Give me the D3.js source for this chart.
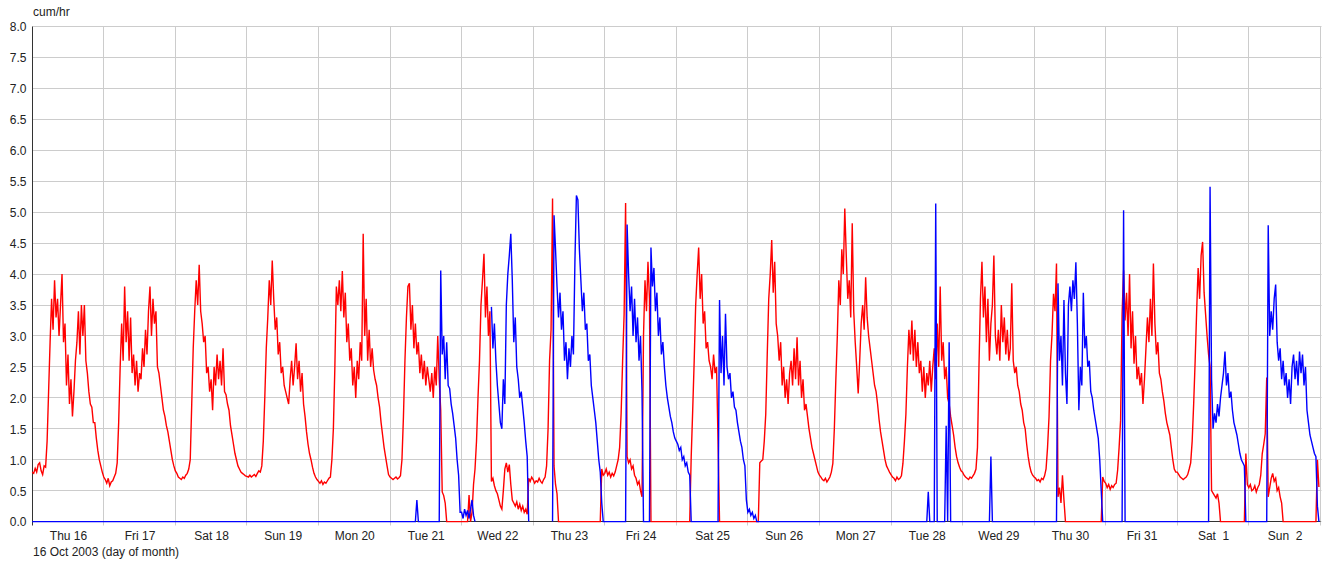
<!DOCTYPE html>
<html>
<head>
<meta charset="utf-8">
<script src="https://cdn.jsdelivr.net/npm/d3@7"></script>
<style>
  html, body { margin: 0; padding: 0; background: #fff; }
  svg { display: block; font-family: "Liberation Sans", Arial, sans-serif; }
</style>
</head>
<body>
<svg id="chart" width="1324" height="561"></svg>
<script>
// Half-hourly flow readings (cum/hr) starting 16 Oct 2003 00:00, one row per day.
const startDate = Date.UTC(2003, 9, 16);
const stepMinutes = 30;
const dayCount = 18;
const yTicks = [0, 0.5, 1, 1.5, 2, 2.5, 3, 3.5, 4, 4.5, 5, 5.5, 6, 6.5, 7, 7.5, 8];
const unitLabel = "cum/hr";
const startLabel = "16 Oct 2003 (day of month)";

// Meter A (red)
const redFlow = [
  [0.80,0.78,0.86,0.80,0.92,0.95,0.82,0.76,0.90,0.88,1.3,2.1,2.9,3.6,3.1,3.9,3.3,3.6,3.0,3.5,4.0,2.9,3.2,2.2,2.7,1.9,2.3,1.7,2.1,2.6,2.9,3.4,2.7,3.5,3.0,3.5,2.6,2.4,2.1,1.9,1.85,1.6,1.6,1.35,1.15,1.0,0.9,0.8],
  [0.72,0.68,0.62,0.70,0.58,0.64,0.66,0.72,0.78,0.95,1.6,2.5,3.2,2.6,3.8,2.9,3.4,2.6,3.3,2.4,2.7,2.2,2.6,2.1,2.4,2.3,2.8,2.5,3.1,2.7,3.4,3.8,3.0,3.6,3.2,3.4,2.5,2.4,2.2,2.0,1.8,1.7,1.55,1.45,1.3,1.15,1.0,0.9],
  [0.82,0.78,0.72,0.70,0.68,0.72,0.70,0.75,0.78,0.85,1.0,1.9,2.8,3.4,3.9,3.5,4.15,3.4,3.2,2.9,3.0,2.4,2.5,2.1,2.3,1.8,2.5,2.2,2.7,2.3,2.6,2.2,2.8,2.1,2.05,1.9,1.8,1.55,1.4,1.25,1.1,1.0,0.9,0.85,0.8,0.78,0.76,0.74],
  [0.73,0.72,0.75,0.72,0.74,0.76,0.73,0.78,0.82,0.80,0.9,1.3,2.0,2.8,3.3,3.9,3.5,4.22,3.6,3.1,3.3,2.7,2.9,2.4,2.5,2.2,2.1,2.0,1.9,2.3,2.6,2.2,2.5,2.88,2.3,2.6,2.1,2.4,1.9,1.7,1.45,1.25,1.1,1.0,0.88,0.78,0.72,0.68],
  [0.65,0.62,0.66,0.60,0.64,0.62,0.66,0.70,0.72,1.0,1.5,2.5,3.8,3.5,3.9,3.4,4.05,3.3,3.7,2.9,3.2,2.6,2.8,2.2,2.5,2.0,2.6,2.3,2.9,2.6,4.65,3.0,3.6,2.6,3.1,2.5,2.8,2.45,2.3,2.2,2.0,1.85,1.6,1.4,1.2,1.05,0.9,0.76],
  [0.72,0.70,0.68,0.70,0.72,0.69,0.71,0.74,1.0,1.7,2.6,3.3,3.8,3.85,3.1,3.5,2.8,3.2,2.7,2.9,2.4,2.7,2.3,2.6,2.2,2.5,2.3,2.1,2.4,2.0,2.5,2.2,3.0,2.3,1.8,0.48,0.42,0.3,0,0,0,0,0,0,0,0,0,0],
  [0,0,0,0,0,0.43,0,0.15,0.6,0.85,1.3,2.0,2.6,3.5,3.9,4.33,3.3,3.8,3.0,3.4,0.65,0.7,0.58,0.5,0.45,0.35,0.25,0.2,0.5,0.85,0.95,0.8,0.92,0.6,0.35,0.3,0.25,0.32,0.2,0.28,0.18,0.25,0.15,0.2,0.12,0.7,0.65,0.72],
  [0.68,0.62,0.66,0.64,0.70,0.65,0.62,0.68,0.72,0.9,1.5,2.6,3.1,5.22,0.9,0.6,0.45,0,0,0,0,0,0,0,0,0,0,0,0,0,0,0,0,0,0,0,0,0,0,0,0,0,0,0,0,0,0.85,0.75],
  [0.78,0.85,0.75,0.80,0.72,0.78,0.74,0.80,0.90,1.0,1.2,1.75,2.6,3.35,5.15,1.05,0.95,1.0,0.85,0.9,0.75,0.7,0.6,0.65,0.5,0.4,3.0,3.9,3.4,4.2,3.6,0,0,0,0,0,0,0,0,0,0,0,0,0,0,0,0,0],
  [0,0,0,0,0,0,0,0,0,0,1.05,1.8,2.6,3.5,4.0,4.43,3.6,4.0,3.2,3.4,2.8,2.9,2.6,2.5,2.3,2.7,2.4,2.5,1.3,0,0,0,0,0,0,0,0,0,0,0,0,0,0,0,0,0,0,0],
  [0,0,0,0,0,0,0,0,0.95,0.98,1.0,1.3,1.74,2.7,3.6,4.0,4.55,3.7,4.2,3.2,3.0,2.6,2.9,2.2,2.5,2.0,2.3,1.9,2.4,2.6,2.2,2.8,2.3,2.98,2.2,2.6,2.0,2.3,1.8,1.9,1.7,1.5,1.35,1.2,1.1,1.0,0.9,0.8],
  [0.75,0.72,0.68,0.66,0.70,0.64,0.68,0.72,0.8,0.94,1.5,2.29,3.0,3.9,3.5,4.4,4.0,5.06,4.3,3.6,3.9,3.3,4.82,3.4,2.9,2.5,2.07,2.6,3.2,3.5,3.1,3.95,3.3,3.0,2.8,2.6,2.4,2.2,2.1,1.9,1.65,1.45,1.3,1.15,1.0,0.9,0.85,0.8],
  [0.76,0.72,0.70,0.66,0.72,0.68,0.70,0.74,0.94,1.3,1.74,2.5,3.1,2.7,3.25,2.6,3.1,2.5,2.9,2.4,2.6,2.1,2.5,2.0,2.4,2.2,2.6,2.1,2.5,2.8,2.3,3.2,2.5,3.8,2.6,2.9,2.3,2.5,2.0,1.9,1.7,1.55,1.4,1.2,1.05,0.95,0.88,0.82],
  [0.8,0.75,0.72,0.7,0.68,0.72,0.7,0.74,0.78,0.85,1.2,2.5,3.6,4.2,3.3,3.8,2.9,3.6,2.6,3.2,3.5,4.3,3.0,2.7,3.1,2.6,3.5,2.9,3.3,2.7,3.1,2.6,2.8,3.85,2.6,2.4,2.5,2.2,2.1,1.9,1.8,1.6,1.5,1.25,1.05,0.9,0.8,0.75],
  [0.72,0.70,0.66,0.68,0.64,0.70,0.68,0.74,0.85,1.2,1.7,2.6,3.03,3.68,3.4,4.17,0.4,0.55,0.3,0.75,0.35,0,0,0,0,0,0,0,0,0,0,0,0,0,0,0,0,0,0,0,0,0,0,0,0,0,0.72,0.65],
  [0.62,0.55,0.6,0.52,0.58,0.55,0.6,0.62,0.83,1.2,1.64,3.36,4.06,3.25,3.7,3.0,4.0,2.8,3.4,2.55,3.0,2.3,2.5,2.2,2.4,1.9,2.3,2.8,3.3,2.9,3.6,3.0,4.17,3.2,2.7,2.9,2.4,2.3,2.1,1.95,1.75,1.6,1.5,1.4,1.2,1.0,0.85,0.8],
  [0.8,0.76,0.72,0.7,0.68,0.7,0.72,0.76,0.85,0.95,1.3,1.9,2.6,3.4,4.1,3.6,4.3,4.52,3.7,3.35,3.0,2.7,2.5,0.5,0.46,0.42,0.38,0.45,0.3,0,0,0,0,0,0,0,0,0,0,0,0,0,0,0,0,0,1.1,0.6],
  [0.55,0.6,0.5,0.52,0.58,0.48,0.55,0.6,0.75,1.1,1.25,1.42,2.33,0.4,0.55,0.7,0.78,0.65,0.7,0.5,0.55,0.4,0.3,0,0,0,0,0,0,0,0,0,0,0,0,0,0,0,0,0,0,0,0,0,0,0,1.0,0.56]
];

// Meter B (blue); null = no reading
const blueFlow = [
  [0,0,0,0,0,0,0,0,0,0,0,0,0,0,0,0,0,0,0,0,0,0,0,0,0,0,0,0,0,0,0,0,0,0,0,0,0,0,0,0,0,0,0,0,0,0,0,0],
  [0,0,0,0,0,0,0,0,0,0,0,0,0,0,0,0,0,0,0,0,0,0,0,0,0,0,0,0,0,0,0,0,0,0,0,0,0,0,0,0,0,0,0,0,0,0,0,0],
  [0,0,0,0,0,0,0,0,0,0,0,0,0,0,0,0,0,0,0,0,0,0,0,0,0,0,0,0,0,0,0,0,0,0,0,0,0,0,0,0,0,0,0,0,0,0,0,0],
  [0,0,0,0,0,0,0,0,0,0,0,0,0,0,0,0,0,0,0,0,0,0,0,0,0,0,0,0,0,0,0,0,0,0,0,0,0,0,0,0,0,0,0,0,0,0,0,0],
  [0,0,0,0,0,0,0,0,0,0,0,0,0,0,0,0,0,0,0,0,0,0,0,0,0,0,0,0,0,0,0,0,0,0,0,0,0,0,0,0,0,0,0,0,0,0,0,0],
  [0,0,0,0,0,0,0,0,0,0,0,0,0,0,0,0,0,0,0.35,0,0,0,0,0,0,0,0,0,0,0,0,0,0,0,4.06,2.7,3.0,2.3,2.9,2.2,2.15,1.9,1.75,1.55,1.35,1.0,0.75,0.15],
  [0.15,0.05,0.2,0.1,0.18,0.05,0.2,0.35,0.1,0,null,null,null,null,null,null,null,null,null,null,3.47,2.8,3.2,2.6,2.2,1.9,1.6,1.5,2.3,1.9,3.5,4.0,4.3,4.65,3.9,2.9,3.3,2.5,2.3,2.0,2.1,1.85,1.6,1.3,1.05,0,null,null],
  [null,null,null,null,null,null,null,null,null,null,null,null,null,0,4.95,4.4,3.8,3.3,3.7,3.1,3.4,2.6,2.9,2.3,2.8,2.5,3.0,2.7,4.2,5.27,5.2,4.4,3.9,3.4,3.7,3.1,3.2,2.6,2.7,2.2,2.0,1.8,1.6,1.3,1.0,0.8,0.3,0],
  [0,0,0,0,0,0,0,0,0,0,0,0,0,0,0,4.8,4.0,3.4,3.8,3.0,3.6,2.9,3.3,2.6,3.0,2.1,0,0,0,0,0,4.43,3.8,4.1,3.4,3.7,3.0,3.3,2.7,2.9,2.5,2.2,2.0,1.85,1.7,1.6,1.45,1.35],
  [1.3,1.25,1.15,1.2,1.0,1.05,0.9,0.95,0.8,0.75,0,0,0,0,0,0,0,0,0,0,0,0,0,0,0,0,0,0,0,3.58,2.4,3.0,2.2,3.36,2.5,2.3,2.4,2.0,2.1,1.85,1.8,1.6,1.45,1.3,1.2,1.0,0.9,0.35],
  [0.15,0.2,0.1,0.15,0.05,0.1,0,0,0,0,0,0,0,0,0,0,0,0,0,0,0,0,0,0,0,0,0,0,0,0,0,0,0,0,0,0,0,0,0,0,0,0,0,0,0,0,0,0],
  [0,0,0,0,0,0,0,0,0,0,0,0,0,0,0,0,0,0,0,0,0,0,0,0,0,0,0,0,0,0,0,0,0,0,0,0,0,0,0,0,0,0,0,0,0,0,0,0],
  [0,0,0,0,0,0,0,0,0,0,0,0,0,0,0,0,0,0,0,0,0,0,0,0,0,0.48,0,0,0,0,5.14,0,0,0,0,0,0,1.55,0,2.9,0,0,0,0,0,0,0,0],
  [0,0,0,0,0,0,0,0,0,0,0,0,0,0,0,0,0,0,0,1.05,0,0,0,0,0,0,0,0,0,0,0,0,0,0,0,0,0,0,0,0,0,0,0,0,0,0,0,0],
  [0,0,0,0,0,0,0,0,0,0,0,0,0,0,0,0,3.85,2.6,3.0,2.2,3.58,2.4,1.9,3.5,3.8,3.4,3.9,3.6,4.19,3.2,1.8,2.5,2.2,3.7,2.8,3.0,2.5,2.6,2.1,2.0,1.8,1.65,1.5,1.35,1.0,0.5,0,0],
  [0,0,0,0,0,0,0,0,0,0,0,0,5.03,0,0,0,0,0,0,0,0,0,0,0,0,0,0,0,0,0,0,0,0,0,0,0,0,0,0,0,0,0,0,0,0,0,0,0],
  [0,0,0,0,0,0,0,0,0,0,0,0,0,0,0,0,0,0,0,0,0,0,5.41,2.3,1.5,1.75,1.6,1.9,1.7,2.0,2.2,2.4,2.75,2.2,2.4,2.0,2.1,1.8,1.6,1.5,1.4,1.25,1.1,1.0,0.95,0.9,0,0],
  [0,0,0,0,0,0,0,0,0,0,0,0,0,4.79,3.0,3.4,3.1,3.6,3.83,2.9,2.6,2.8,2.3,2.6,2.2,2.4,2.0,2.3,1.9,2.5,2.7,2.3,2.6,2.2,2.75,2.4,2.7,2.2,2.5,1.8,1.6,1.4,1.3,1.2,1.1,1.05,0.25,0]
];

const plotLeft = 32.2, plotRight = 1320.4, plotTop = 26.6, plotBottom = 521.6;
const dayMs = 864e5, stepMs = stepMinutes * 60e3;
const endDate = startDate + dayCount * dayMs;

const svg = d3.select("#chart");
const x = d3.scaleUtc().domain([new Date(startDate), new Date(endDate)]).range([plotLeft, plotRight]);
const y = d3.scaleLinear().domain([0, 8]).range([plotBottom, plotTop]);
const crisp = v => Math.floor(v) + 0.5;

function toPoints(rows) {
  const pts = [];
  rows.forEach((row, d) => row.forEach((v, i) => {
    pts.push({ t: new Date(startDate + d * dayMs + i * stepMs), v });
  }));
  return pts;
}

const dayEdges = d3.utcDay.range(new Date(startDate), new Date(endDate + 1));
const noons = dayEdges.slice(0, dayCount).map(d => d3.utcHour.offset(d, 12));

// horizontal grid
svg.append("g").selectAll("line").data(yTicks).join("line")
  .attr("x1", crisp(plotLeft)).attr("x2", crisp(plotRight) + 1)
  .attr("y1", d => crisp(y(d))).attr("y2", d => crisp(y(d)))
  .attr("stroke", "#cccccc").attr("stroke-width", 1);

// vertical grid at midnights, with short ticks below the axis
svg.append("g").selectAll("line").data(dayEdges.slice(1)).join("line")
  .attr("x1", d => crisp(x(d))).attr("x2", d => crisp(x(d)))
  .attr("y1", crisp(plotTop)).attr("y2", crisp(plotBottom) + 4)
  .attr("stroke", "#cccccc").attr("stroke-width", 1);

// axis lines
svg.append("line")
  .attr("x1", crisp(plotLeft)).attr("x2", crisp(plotLeft))
  .attr("y1", crisp(plotTop)).attr("y2", crisp(plotBottom) + 4)
  .attr("stroke", "#333").attr("stroke-width", 1);
svg.append("line")
  .attr("x1", crisp(plotLeft)).attr("x2", crisp(plotRight))
  .attr("y1", crisp(plotBottom)).attr("y2", crisp(plotBottom))
  .attr("stroke", "#333").attr("stroke-width", 1);

// y labels
const yAxis = d3.axisLeft(y).tickValues(yTicks).tickFormat(d3.format(".1f")).tickSize(0).tickPadding(6);
const gy = svg.append("g").attr("transform", `translate(${crisp(plotLeft)},0.5)`).call(yAxis);
gy.select(".domain").remove();
gy.selectAll("text").attr("font-size", 12).attr("fill", "#222")
  .attr("font-family", '"Liberation Sans", Arial, sans-serif');

// x labels at noon of each day
const xAxis = d3.axisBottom(x).tickValues(noons).tickFormat(d3.utcFormat("%a %e")).tickSize(0).tickPadding(10);
const gx = svg.append("g").attr("transform", `translate(0,${crisp(plotBottom)})`).call(xAxis);
gx.select(".domain").remove();
gx.selectAll("text").attr("font-size", 12).attr("fill", "#222")
  .attr("font-family", '"Liberation Sans", Arial, sans-serif')
  .style("white-space", "pre");

svg.append("text").attr("x", 33).attr("y", 16).attr("font-size", 12).attr("fill", "#222").text(unitLabel);
svg.append("text").attr("x", 33).attr("y", 556).attr("font-size", 12).attr("fill", "#222").text(startLabel);

// series
const line = d3.line().defined(d => d.v != null).x(d => x(d.t)).y(d => y(d.v));
svg.append("path").datum(toPoints(redFlow)).attr("d", line)
  .attr("fill", "none").attr("stroke", "#ff0000").attr("stroke-width", 1.4).attr("stroke-linejoin", "miter");
svg.append("path").datum(toPoints(blueFlow)).attr("d", line)
  .attr("fill", "none").attr("stroke", "#0000ff").attr("stroke-width", 1.4).attr("stroke-linejoin", "miter");
</script>
</body>
</html>
